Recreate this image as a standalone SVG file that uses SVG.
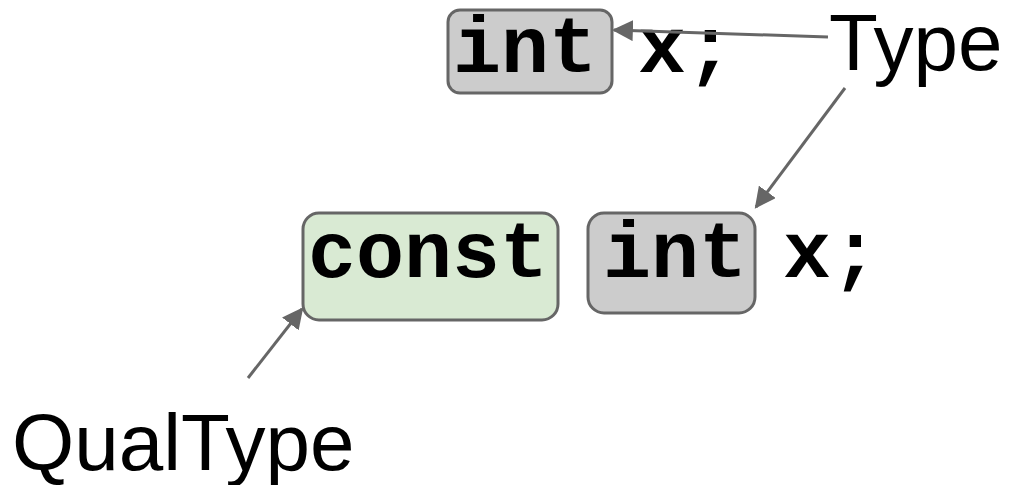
<svg xmlns="http://www.w3.org/2000/svg" width="1015" height="485" viewBox="0 0 1015 485">
  <style>
    .box { stroke: #666666; stroke-width: 3; }
    .type { fill: #cccccc; }
    .qual { fill: #d9ead3; }
    .code { font-family: "Liberation Mono", "Courier New", monospace; font-weight: bold; font-size: 80px; fill: #000000; }
    .label { font-family: "Liberation Sans", Arial, sans-serif; font-size: 80px; fill: #000000; }
    .conn { stroke: #666666; stroke-width: 3; fill: none; marker-end: url(#arrow); }
  </style>
  <defs>
    <marker id="arrow" viewBox="0 0 10 10" refX="9" refY="5" markerWidth="7" markerHeight="7" orient="auto" markerUnits="strokeWidth">
      <path d="M0,0 L10,5 L0,10 z" fill="#666666"/>
    </marker>
  </defs>

  <!-- declaration: int x; -->
  <g id="decl-int">
    <rect class="box type" x="448" y="10" width="164" height="83" rx="12"/>
    <text class="code" x="453" y="72">int</text>
  </g>
  <g id="decl-x">
    <text class="code" x="638" y="72">x;</text>
  </g>

  <!-- declaration: const int x; -->
  <g id="const-qual">
    <rect class="box qual" x="303" y="213" width="255" height="107" rx="16"/>
    <text class="code" x="308" y="277">const</text>
  </g>
  <g id="const-int">
    <rect class="box type" x="588" y="213" width="167" height="100" rx="16"/>
    <text class="code" x="603" y="277">int</text>
  </g>
  <g id="const-x">
    <text class="code" x="783" y="277">x;</text>
  </g>

  <!-- labels -->
  <g id="label-type">
    <text class="label" x="829" y="70">Type</text>
  </g>
  <g id="label-qualtype">
    <text class="label" x="12" y="470">QualType</text>
  </g>

  <!-- connectors -->
  <g id="connectors">
    <line class="conn" x1="828" y1="37" x2="614" y2="30"/>
    <line class="conn" x1="845" y1="88" x2="756" y2="207"/>
    <line class="conn" x1="248" y1="378" x2="302" y2="309"/>
  </g>
</svg>
